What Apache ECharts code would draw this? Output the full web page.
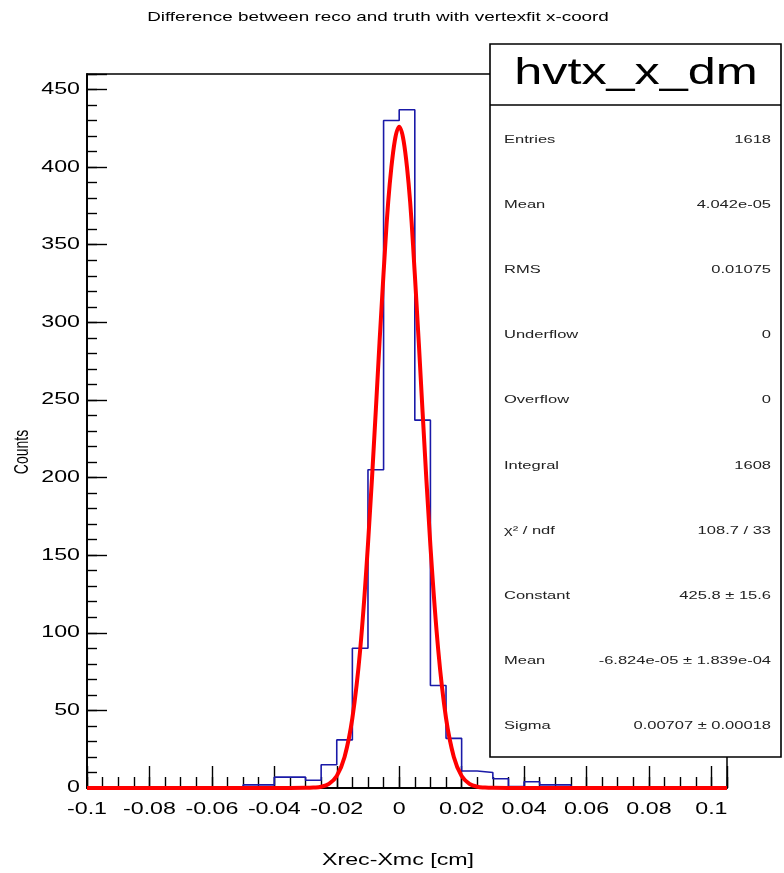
<!DOCTYPE html>
<html>
<head>
<meta charset="utf-8">
<script src="https://cdn.jsdelivr.net/npm/echarts@6/dist/echarts.min.js"></script>
<style>
  html, body { margin: 0; padding: 0; background: #fff; }
  #chart { width: 784px; height: 873px; }
</style>
</head>
<body>
<div id="chart"></div>
<script>
  // histogram hvtx_x_dm : lower bin edges (bin width 0.005) and counts
  var binLow = [-0.1, -0.095, -0.09, -0.085, -0.08, -0.075, -0.07, -0.065, -0.06, -0.055,
                -0.05, -0.045, -0.04, -0.035, -0.03, -0.025, -0.02, -0.015, -0.01, -0.005,
                0, 0.005, 0.01, 0.015, 0.02, 0.025, 0.03, 0.035, 0.04, 0.045,
                0.05, 0.055, 0.06, 0.065, 0.07, 0.075, 0.08, 0.085, 0.09, 0.095, 0.1];
  var counts = [0, 0, 0, 0, 0, 0, 0, 0, 0, 0,
                2, 2, 7, 7, 5, 15, 31, 90, 205, 430,
                437, 237, 66, 32, 11, 10, 6, 1, 4, 2,
                2, 0, 0, 0, 0, 0, 0, 0, 0, 0, 0];
  var histEnd = 0.105;

  // gaussian fit curve
  var fitX = [-0.1, -0.04, -0.035, -0.03, -0.0275, -0.025, -0.0225, -0.02, -0.0175, -0.015,
              -0.0125, -0.01, -0.0075, -0.005, -0.0025, 0, 0.0025, 0.005, 0.0075, 0.01,
              0.0125, 0.015, 0.0175, 0.02, 0.0225, 0.025, 0.0275, 0.03, 0.035, 0.04, 0.105];
  var fitY = [0, 0, 0, 0.1, 0.3, 0.8, 2.7, 7.8, 20, 45,
              89, 157, 243, 332, 400, 426, 400, 331, 242, 156,
              89, 45, 20, 7.7, 2.7, 0.8, 0.3, 0.1, 0, 0, 0];

  // tick labels
  var xTickValues = [-0.1, -0.08, -0.06, -0.04, -0.02, 0, 0.02, 0.04, 0.06, 0.08, 0.1];
  var xTickLabels = ['-0.1', '-0.08', '-0.06', '-0.04', '-0.02', '0', '0.02', '0.04', '0.06', '0.08', '0.1'];
  var yTickValues = [0, 50, 100, 150, 200, 250, 300, 350, 400, 450];
  var yTickLabels = ['0', '50', '100', '150', '200', '250', '300', '350', '400', '450'];

  // stats box
  var statTitle = 'hvtx_x_dm';
  var statNames = ['Entries', 'Mean', 'RMS', 'Underflow', 'Overflow', 'Integral',
                   'χ² / ndf', 'Constant', 'Mean', 'Sigma'];
  var statValues = ['1618', '4.042e-05', '0.01075', '0', '0', '1608',
                    '108.7 / 33', '425.8 ± 15.6', '-6.824e-05 ± 1.839e-04', '0.00707 ± 0.00018'];

  var FONT = '"Liberation Sans", Arial, sans-serif';
  var SX = 1.45; // the original text is drawn wide

  var histData = [];
  for (var i = 0; i < binLow.length; i++) histData.push([binLow[i], counts[i]]);
  histData.push([histEnd, 0]);

  var fitData = [];
  for (var j = 0; j < fitX.length; j++) fitData.push([fitX[j], fitY[j]]);

  var chart = echarts.init(document.getElementById('chart'), null, { renderer: 'canvas' });

  var axisBlack = { color: '#000', width: 1.5 };
  var tickBlack = { color: '#000', width: 1.4 };

  var graphics = [];
  graphics.push({
    type: 'text', x: 378, y: 17, scaleX: SX, z: 100,
    style: { text: 'Difference between reco and truth with vertexfit x-coord', fontSize: 13,
             fontFamily: FONT, fill: '#000', align: 'center', verticalAlign: 'middle' }
  });
  graphics.push({
    type: 'text', x: 22, y: 452, rotation: Math.PI / 2, scaleY: SX, z: 100,
    style: { text: 'Counts', fontSize: 14, fontFamily: FONT, fill: '#000',
             align: 'center', verticalAlign: 'middle' }
  });
  graphics.push({
    type: 'text', x: 398, y: 861, scaleX: SX, z: 100,
    style: { text: 'Xrec-Xmc [cm]', fontSize: 16, fontFamily: FONT, fill: '#000',
             align: 'center', verticalAlign: 'middle' }
  });
  graphics.push({
    type: 'rect', z: 100,
    shape: { x: 490, y: 44, width: 291, height: 713 },
    style: { fill: '#fff', stroke: '#000', lineWidth: 1.6 }
  });
  graphics.push({
    type: 'line', z: 101,
    shape: { x1: 490, y1: 105, x2: 781, y2: 105 },
    style: { stroke: '#000', lineWidth: 1.6 }
  });
  graphics.push({
    type: 'text', x: 636, y: 74, scaleX: 1.4, z: 101,
    style: { text: statTitle, fontSize: 36, fontFamily: FONT, fill: '#000',
             align: 'center', verticalAlign: 'middle' }
  });
  for (var k = 0; k < statNames.length; k++) {
    var ry = 140 + k * 65.1;
    graphics.push({
      type: 'text', x: 504, y: ry, scaleX: 1.5, z: 101,
      style: { text: statNames[k], fontSize: 11, fontFamily: FONT, fill: '#222',
               align: 'left', verticalAlign: 'middle' }
    });
    graphics.push({
      type: 'text', x: 771, y: ry, scaleX: 1.5, z: 101,
      style: { text: statValues[k], fontSize: 11, fontFamily: FONT, fill: '#222',
               align: 'right', verticalAlign: 'middle' }
    });
  }

  var option = {
    animation: false,
    backgroundColor: '#fff',
    grid: {
      left: 87, right: 57, top: 74, bottom: 85,
      show: true, borderColor: '#000', borderWidth: 1.5, backgroundColor: 'transparent'
    },
    xAxis: [{
      type: 'value', min: -0.1, max: 0.105, interval: 0.005, position: 'bottom',
      axisLine: { show: true, onZero: false, lineStyle: axisBlack },
      axisTick: { show: true, inside: true, length: 11, lineStyle: tickBlack },
      axisLabel: { show: false }, splitLine: { show: false }
    }, {
      type: 'value', min: -0.1, max: 0.105, interval: 0.02, position: 'bottom',
      axisLine: { show: true, onZero: false, lineStyle: axisBlack },
      axisTick: { show: true, inside: true, length: 22, lineStyle: tickBlack },
      axisLabel: { show: false }, splitLine: { show: false }
    }],
    yAxis: [{
      type: 'value', min: 0, max: 460, interval: 10, position: 'left',
      axisLine: { show: true, onZero: false, lineStyle: axisBlack },
      axisTick: { show: true, inside: true, length: 10, lineStyle: tickBlack },
      axisLabel: { show: false }, splitLine: { show: false }
    }, {
      type: 'value', min: 0, max: 460, interval: 50, position: 'left', offset: 0,
      axisLine: { show: true, onZero: false, lineStyle: axisBlack },
      axisTick: { show: true, inside: true, length: 20, lineStyle: tickBlack },
      axisLabel: { show: false }, splitLine: { show: false }
    }],
    series: [{
      name: 'hvtx_x_dm', type: 'line', step: 'end', xAxisIndex: 0, yAxisIndex: 0,
      data: histData, symbol: 'none', z: 3,
      lineStyle: { color: '#1a1aa8', width: 1.6 }
    }, {
      name: 'gaus', type: 'line', xAxisIndex: 0, yAxisIndex: 0,
      data: fitData, symbol: 'none', smooth: 0.4, z: 4,
      lineStyle: { color: '#ff0000', width: 4 }
    }, {
      // x tick labels, placed through the axis scale
      type: 'custom', xAxisIndex: 0, yAxisIndex: 0, silent: true, clip: false, z: 20,
      data: xTickValues.map(function (v, i) { return [v, 0, i]; }),
      renderItem: function (params, api) {
        var p = api.coord([api.value(0), 0]);
        return {
          type: 'text', x: p[0], y: p[1] + 14, scaleX: SX,
          style: { text: xTickLabels[api.value(2)], fontSize: 16, fontFamily: FONT,
                   fill: '#000', align: 'center', verticalAlign: 'top' }
        };
      }
    }, {
      // y tick labels
      type: 'custom', xAxisIndex: 0, yAxisIndex: 0, silent: true, clip: false, z: 20,
      data: yTickValues.map(function (v, i) { return [-0.1, v, i]; }),
      renderItem: function (params, api) {
        var p = api.coord([-0.1, api.value(1)]);
        return {
          type: 'text', x: p[0] - 7, y: p[1], scaleX: SX,
          style: { text: yTickLabels[api.value(2)], fontSize: 16, fontFamily: FONT,
                   fill: '#000', align: 'right', verticalAlign: 'middle' }
        };
      }
    }],
    graphic: graphics
  };

  chart.setOption(option);
</script>
</body>
</html>
